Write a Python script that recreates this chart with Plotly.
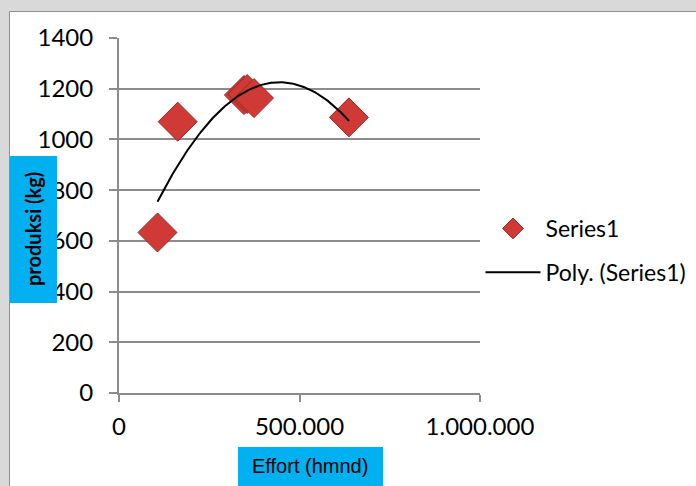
import numpy as np
import plotly.graph_objects as go

# Catch data: effort (hmnd) vs production (kg)
effort = [106600, 162600, 346000, 355000, 374000, 637000]
produksi = [633, 1070, 1175, 1179, 1163, 1087]

x_tick_vals = [0, 500000, 1000000]
x_tick_text = ["0", "500.000", "1.000.000"]
y_tick_vals = [0, 200, 400, 600, 800, 1000, 1200, 1400]

# second-order polynomial trend line over the observed effort range
coef = np.polyfit(effort, produksi, 2)
trend_x = np.linspace(min(effort), max(effort), 200)
trend_y = np.polyval(coef, trend_x)

W, H = 696, 486
L, R, T, B = 119, 480, 38, 393  # plot area in pixels


def px(xp):
    return (xp - L) / (R - L)


def py(yp):
    return (B - yp) / (B - T)


fig = go.Figure()
fig.add_trace(go.Scatter(
    x=effort, y=produksi, mode="markers", name="Series1",
    legendgroup="a",
    marker=dict(symbol="diamond", size=30, color="#cf3a37",
                line=dict(color="#9c2522", width=1)),
))
fig.add_trace(go.Scatter(
    x=trend_x, y=trend_y, mode="lines", name="Poly. (Series1)",
    legendgroup="b",
    line=dict(color="black", width=2),
))

grid = "#8c8c8c"
fig.update_layout(
    width=W, height=H,
    margin=dict(l=L, r=W - R, t=T, b=H - B, pad=0, autoexpand=False),
    paper_bgcolor="#d9d9d9",
    plot_bgcolor="white",
    font=dict(family="Lato", size=24, color="black"),
    xaxis=dict(
        range=[0, 1000000], tickvals=x_tick_vals, ticktext=x_tick_text,
        showgrid=False, zeroline=False, showline=True, linecolor=grid,
        linewidth=2, ticks="outside", ticklen=7, tickwidth=2, tickcolor=grid,
        ticklabelstandoff=4,
    ),
    yaxis=dict(
        range=[0, 1400], tickvals=y_tick_vals,
        showgrid=True, gridcolor=grid, gridwidth=2, zeroline=False,
        showline=True, linecolor=grid, linewidth=2,
        ticks="outside", ticklen=8, tickwidth=2, tickcolor=grid,
        ticklabelstandoff=11,
    ),
    showlegend=True,
    legend=dict(
        x=px(480.5), y=py(207), xanchor="left", yanchor="top",
        bgcolor="rgba(0,0,0,0)", font=dict(family="Lato", size=23),
        traceorder="grouped", tracegroupgap=11, itemwidth=55,
    ),
    shapes=[
        # white chart area with its thin frame
        dict(type="rect", xref="paper", yref="paper", layer="below",
             x0=px(9.5), x1=px(720), y0=py(520), y1=py(11.5),
             fillcolor="white", line=dict(color="#8f8f8f", width=1)),
        # title boxes
        dict(type="rect", xref="paper", yref="paper", layer="above",
             x0=px(10), x1=px(57), y0=py(303), y1=py(156),
             fillcolor="#00b0f0", line=dict(width=0)),
        dict(type="rect", xref="paper", yref="paper", layer="above",
             x0=px(238), x1=px(383), y0=py(520), y1=py(447),
             fillcolor="#00b0f0", line=dict(width=0)),
    ],
    annotations=[
        dict(text="<b>produksi (kg)</b>", xref="paper", yref="paper",
             x=px(33.5), y=py(229.5), xanchor="center", yanchor="middle",
             showarrow=False, textangle=-90,
             font=dict(family="Lato", size=20, color="black")),
        dict(text="Effort (hmnd)", xref="paper", yref="paper",
             x=px(310), y=py(466), xanchor="center", yanchor="middle",
             showarrow=False,
             font=dict(family="Liberation Sans", size=20, color="black")),
    ],
)

fig.write_html("out.html")
